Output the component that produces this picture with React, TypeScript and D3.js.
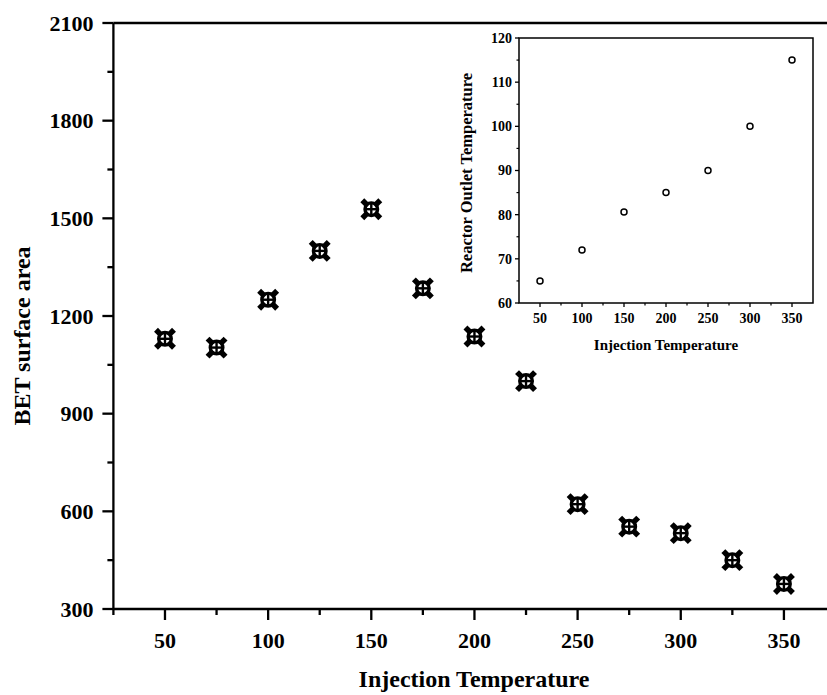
import React from "react";
import * as d3 from "d3";

const injectionTemps = [50, 75, 100, 125, 150, 175, 200, 225, 250, 275, 300, 325, 350];
const betArea = [1130, 1103, 1250, 1400, 1528, 1285, 1137, 1000, 622, 553, 533, 450, 377];

const insetTemps = [50, 100, 150, 200, 250, 300, 350];
const outletTemps = [65, 72, 80.6, 85, 90, 100, 115];

const mainXTicks = [50, 100, 150, 200, 250, 300, 350];
const mainXMinor = [25, 75, 125, 175, 225, 275, 325, 375];
const mainYTicks = [300, 600, 900, 1200, 1500, 1800, 2100];
const mainYMinor = [450, 750, 1050, 1350, 1650, 1950];

const insetXTicks = [50, 100, 150, 200, 250, 300, 350];
const insetXMinor = [75, 125, 175, 225, 275, 325];
const insetYTicks = [60, 70, 80, 90, 100, 110, 120];
const insetYMinor = [65, 75, 85, 95, 105, 115];

const FONT = "'Liberation Serif', 'DejaVu Serif', serif";

function Marker({ x, y }: { x: number; y: number }) {
  const a = 9;
  const r = 6.3;
  const d = r * Math.SQRT1_2;
  return (
    <g transform={`translate(${x},${y})`} stroke="#000" fill="none">
      <circle r={r} strokeWidth={3.4} />
      <line x1={-r} x2={r} y1={0} y2={0} strokeWidth={2.4} />
      <line x1={0} x2={0} y1={-r} y2={r} strokeWidth={2.4} />
      <line x1={-a} y1={-a} x2={-d} y2={-d} strokeWidth={5.5} />
      <line x1={a} y1={-a} x2={d} y2={-d} strokeWidth={5.5} />
      <line x1={-a} y1={a} x2={-d} y2={d} strokeWidth={5.5} />
      <line x1={a} y1={a} x2={d} y2={d} strokeWidth={5.5} />
    </g>
  );
}

export default function App() {
  const W = 827;
  const H = 695;
  const x = d3.scaleLinear().domain([25, 375]).range([113.4, 835.5]);
  const y = d3.scaleLinear().domain([300, 2100]).range([609, 23]);

  const ix = d3.scaleLinear().domain([25, 375]).range([519, 813]);
  const iy = d3.scaleLinear().domain([60, 120]).range([303, 38]);

  const x0 = x.range()[0];
  const y0 = y.range()[0];

  return (
    <svg
      width={W}
      height={H}
      style={{ position: "fixed", left: 0, top: 0, background: "#fff" }}
      fontFamily={FONT}
    >
      <rect width={W} height={H} fill="#fff" />
      {/* main frame */}
      <line x1={x0} x2={x.range()[1]} y1={y0} y2={y0} stroke="#000" strokeWidth={2.3} />
      <line x1={x0} x2={x0} y1={y.range()[1]} y2={y0} stroke="#000" strokeWidth={2.3} />
      <line x1={x0} x2={x.range()[1]} y1={y.range()[1]} y2={y.range()[1]} stroke="#000" strokeWidth={2.3} />
      <line x1={x.range()[1]} x2={x.range()[1]} y1={y.range()[1]} y2={y0} stroke="#000" strokeWidth={2.3} />
      {/* main y ticks */}
      {mainYTicks.map((t) => (
        <g key={"my" + t}>
          <line x1={x0 - 11} x2={x0} y1={y(t)} y2={y(t)} stroke="#000" strokeWidth={2.3} />
          <text x={x0 - 20} y={y(t)} dy="0.35em" textAnchor="end" fontSize={22} fontWeight="bold">
            {t}
          </text>
        </g>
      ))}
      {mainYMinor.map((t) => (
        <line key={"mym" + t} x1={x0 - 6} x2={x0} y1={y(t)} y2={y(t)} stroke="#000" strokeWidth={2.3} />
      ))}
      {/* main x ticks */}
      {mainXTicks.map((t) => (
        <g key={"mx" + t}>
          <line x1={x(t)} x2={x(t)} y1={y0} y2={y0 + 11} stroke="#000" strokeWidth={2.3} />
          <text x={x(t)} y={y0 + 39} textAnchor="middle" fontSize={22} fontWeight="bold">
            {t}
          </text>
        </g>
      ))}
      {mainXMinor.map((t) => (
        <line key={"mxm" + t} x1={x(t)} x2={x(t)} y1={y0} y2={y0 + 6} stroke="#000" strokeWidth={2.3} />
      ))}
      <text x={474} y={687} textAnchor="middle" fontSize={24} fontWeight="bold">
        Injection Temperature
      </text>
      <text
        transform={`translate(30,336) rotate(-90)`}
        textAnchor="middle"
        fontSize={24}
        fontWeight="bold"
      >
        BET surface area
      </text>
      {injectionTemps.map((t, i) => (
        <Marker key={"m" + t} x={x(t)} y={y(betArea[i])} />
      ))}

      {/* inset */}
      <rect
        x={ix.range()[0]}
        y={iy.range()[1]}
        width={ix.range()[1] - ix.range()[0]}
        height={iy.range()[0] - iy.range()[1]}
        fill="#fff"
        stroke="#000"
        strokeWidth={1.5}
      />
      {insetYTicks.map((t) => (
        <g key={"iy" + t}>
          <line x1={ix.range()[0] - 4} x2={ix.range()[0]} y1={iy(t)} y2={iy(t)} stroke="#000" strokeWidth={1.3} />
          <text x={ix.range()[0] - 7} y={iy(t)} dy="0.35em" textAnchor="end" fontSize={14} fontWeight="bold">
            {t}
          </text>
        </g>
      ))}
      {insetYMinor.map((t) => (
        <line key={"iym" + t} x1={ix.range()[0] - 2.5} x2={ix.range()[0]} y1={iy(t)} y2={iy(t)} stroke="#000" strokeWidth={1.2} />
      ))}
      {insetXTicks.map((t) => (
        <g key={"ix" + t}>
          <line x1={ix(t)} x2={ix(t)} y1={iy.range()[0]} y2={iy.range()[0] + 4} stroke="#000" strokeWidth={1.3} />
          <text x={ix(t)} y={iy.range()[0] + 20} textAnchor="middle" fontSize={14} fontWeight="bold">
            {t}
          </text>
        </g>
      ))}
      {insetXMinor.map((t) => (
        <line key={"ixm" + t} x1={ix(t)} x2={ix(t)} y1={iy.range()[0]} y2={iy.range()[0] + 2.5} stroke="#000" strokeWidth={1.2} />
      ))}
      <text x={666} y={350} textAnchor="middle" fontSize={15} fontWeight="bold">
        Injection Temperature
      </text>
      <text
        transform={`translate(472,173) rotate(-90)`}
        textAnchor="middle"
        fontSize={16.5}
        fontWeight="bold"
      >
        Reactor Outlet Temperature
      </text>
      {insetTemps.map((t, i) => (
        <circle key={"ic" + t} cx={ix(t)} cy={iy(outletTemps[i])} r={3} fill="none" stroke="#000" strokeWidth={1.5} />
      ))}
    </svg>
  );
}
